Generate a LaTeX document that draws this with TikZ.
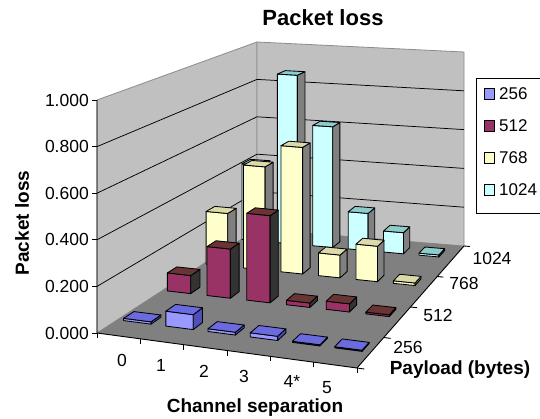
\documentclass[tikz,border=0pt]{standalone}
\usepackage{fontspec}
\setmainfont{Liberation Sans}
\definecolor{wallc}{HTML}{C0C0C0}
\definecolor{wallb}{HTML}{8C8C8C}
\definecolor{floorc}{HTML}{808080}
\definecolor{bfront}{HTML}{9999FF}
\definecolor{btop}{HTML}{6B6BE0}
\definecolor{bside}{HTML}{4F4FB8}
\definecolor{mfront}{HTML}{993366}
\definecolor{mtop}{HTML}{683434}
\definecolor{mside}{HTML}{333333}
\definecolor{yfront}{HTML}{FFFFCC}
\definecolor{ytop}{HTML}{DDDAAA}
\definecolor{yside}{HTML}{808080}
\definecolor{cfront}{HTML}{CCFFFF}
\definecolor{ctop}{HTML}{8CCCCC}
\definecolor{cside}{HTML}{808080}
\newcommand\rowset[7]{\def\Rb{#1}\def\Rd{#2}\def\Rw{#3}\def\Rs{#4}\def\Rf{#5}\def\Rt{#6}\def\Rsd{#7}}
\newcommand\drawbar[2]{%
  \pgfmathsetmacro\Aleft{(#1+0.5)/6+\Rs-\Rw}%
  \pgfmathsetmacro\Aright{(#1+0.5)/6+\Rs+\Rw}%
  \pgfmathsetmacro\Bk{\Rb+\Rd}%
  \def\Vv{#2}%
  \path[barface,fill=\Rf] ({PX(\Aleft,\Rb)},{PY(\Aleft,\Rb,0)}) -- ({PX(\Aright,\Rb)},{PY(\Aright,\Rb,0)}) -- ({PX(\Aright,\Rb)},{PY(\Aright,\Rb,\Vv)}) -- ({PX(\Aleft,\Rb)},{PY(\Aleft,\Rb,\Vv)}) -- cycle;
  \path[barface,fill=\Rsd] ({PX(\Aright,\Rb)},{PY(\Aright,\Rb,0)}) -- ({PX(\Aright,\Bk)},{PY(\Aright,\Bk,0)}) -- ({PX(\Aright,\Bk)},{PY(\Aright,\Bk,\Vv)}) -- ({PX(\Aright,\Rb)},{PY(\Aright,\Rb,\Vv)}) -- cycle;
  \path[barface,fill=\Rt] ({PX(\Aleft,\Rb)},{PY(\Aleft,\Rb,\Vv)}) -- ({PX(\Aright,\Rb)},{PY(\Aright,\Rb,\Vv)}) -- ({PX(\Aright,\Bk)},{PY(\Aright,\Bk,\Vv)}) -- ({PX(\Aleft,\Bk)},{PY(\Aleft,\Bk,\Vv)}) -- cycle;
}
\begin{document}
\begin{tikzpicture}[x=1pt,y=-1pt,
  declare function={
    PX(\pa,\pb)=97+260*\pa+160*\pb-53*\pa*\pb;
    PY(\pa,\pb,\pz)=333+35*\pa-104*\pb-18*\pa*\pb-\pz*(233+9*\pa-46*\pb-2*\pa*\pb);
  },
  barface/.style={draw=black,line width=0.85pt,line join=round},
  wall/.style={fill=wallc,draw=wallb,line width=0.8pt,line join=round},
  grid/.style={draw=black,line width=0.75pt},
  axisline/.style={draw=black,line width=0.9pt},
  ticklab/.style={font=\fontsize{17.5}{20}\selectfont,inner sep=0pt},
  axtitle/.style={font=\fontsize{19}{22}\selectfont\bfseries,inner sep=0pt},
  legsq/.style={draw=black,line width=0.7pt,minimum size=10.5pt,inner sep=0pt},
  leglab/.style={font=\fontsize{17}{20}\selectfont,inner sep=0pt,anchor=west}]
\useasboundingbox (0,0) rectangle (540,418);
\fill[white] (0,0) rectangle (540,418);
% walls
\path[wall] ({PX(0,0)},{PY(0,0,0)}) -- ({PX(0,1)},{PY(0,1,0)}) -- ({PX(0,1)},{PY(0,1,1)}) -- ({PX(0,0)},{PY(0,0,1)}) -- cycle;
\path[wall] ({PX(0,1)},{PY(0,1,0)}) -- ({PX(1,1)},{PY(1,1,0)}) -- ({PX(1,1)},{PY(1,1,1)}) -- ({PX(0,1)},{PY(0,1,1)}) -- cycle;
% gridlines
\foreach \z in {0.2,0.4,0.6,0.8}
  \draw[grid] ({PX(0,0)},{PY(0,0,\z)}) -- ({PX(0,1)},{PY(0,1,\z)}) -- ({PX(1,1)},{PY(1,1,\z)});
% floor
\fill[floorc] ({PX(0,0)},{PY(0,0,0)}) -- ({PX(1,0)},{PY(1,0,0)}) -- ({PX(1,1)},{PY(1,1,0)}) -- ({PX(0,1)},{PY(0,1,0)}) -- cycle;
% axes
\draw[axisline] ({PX(0,0)},{PY(0,0,1)}) -- ({PX(0,0)},{PY(0,0,0)}) -- ({PX(1,0)},{PY(1,0,0)}) -- ({PX(1,1)},{PY(1,1,0)});
\foreach \i/\v/\t in {0/0/0.000,1/0.2/0.200,2/0.4/0.400,3/0.6/0.600,4/0.8/0.800,5/1/1.000}{
  \draw[axisline] (92,{PY(0,0,\v)}) -- (97,{PY(0,0,\v)});
  \node[ticklab,anchor=east] (vl\i) at (89,{PY(0,0,\v)}) {\t};
}
\foreach \c in {0,...,6}
  \draw[axisline] ({PX(\c/6,0)},{PY(\c/6,0,0)}) -- ++(0,5);
\foreach \s in {0,...,4}
  \draw[axisline] ({PX(1,\s/4)},{PY(1,\s/4,0)}) -- ({PX(1.028,\s/4)},{PY(1.028,\s/4,0)});
% bars: back row first
\rowset{0.90}{0.052}{0.047}{-0.0315}{cfront}{ctop}{cside}
\drawbar{0}{0.395}\drawbar{1}{0.874}\drawbar{2}{0.62}\drawbar{3}{0.19}\drawbar{4}{0.107}\drawbar{5}{0.01}
\rowset{0.665}{0.055}{0.048}{-0.0233}{yfront}{ytop}{yside}
\drawbar{0}{0.26}\drawbar{1}{0.505}\drawbar{2}{0.615}\drawbar{3}{0.11}\drawbar{4}{0.17}\drawbar{5}{0.012}
\rowset{0.41}{0.06}{0.049}{-0.0144}{mfront}{mtop}{mside}
\drawbar{0}{0.084}\drawbar{1}{0.227}\drawbar{2}{0.40}\drawbar{3}{0.02}\drawbar{4}{0.037}\drawbar{5}{0.008}
\rowset{0.127}{0.065}{0.054}{-0.0044}{bfront}{btop}{bside}
\drawbar{0}{0.01}\drawbar{1}{0.065}\drawbar{2}{0.012}\drawbar{3}{0.018}\drawbar{4}{0.005}\drawbar{5}{0.005}
% category labels
\node[ticklab] (c0) at (122,360) {0};
\node[ticklab] (c1) at (161,365) {1};
\node[ticklab] (c2) at (204,371) {2};
\node[ticklab] (c3) at (244,376) {3};
\node[ticklab] (c4) at (292,381) {4*};
\node[ticklab] (c5) at (327,388) {5};
% series labels
\node[ticklab] (s0) at (408,347) {256};
\node[ticklab] (s1) at (438,315) {512};
\node[ticklab] (s2) at (464,283) {768};
\node[ticklab] (s3) at (492,258) {1024};
% titles
\node[font=\fontsize{22}{26}\selectfont\bfseries,inner sep=0pt] (title) at (323,18) {Packet loss};
\node[axtitle] (xt) at (255,408) {Channel separation};
\node[axtitle] (st) at (460,370) {Payload (bytes)};
\node[axtitle,rotate=90] (yt) at (22,223) {Packet loss};
% legend
\draw[black,line width=0.8pt,fill=white] (476,78) rectangle (560,213);
\node[legsq,fill=bfront] (q0) at (489.5,94) {};
\node[legsq,fill=mfront] (q1) at (489.5,126) {};
\node[legsq,fill=yfront] (q2) at (489.5,158) {};
\node[legsq,fill=cfront] (q3) at (489.5,190) {};
\node[leglab] (l0) at (499,94) {256};
\node[leglab] (l1) at (499,126) {512};
\node[leglab] (l2) at (499,158) {768};
\node[leglab] (l3) at (499,190) {1024};
\end{tikzpicture}
\end{document}
